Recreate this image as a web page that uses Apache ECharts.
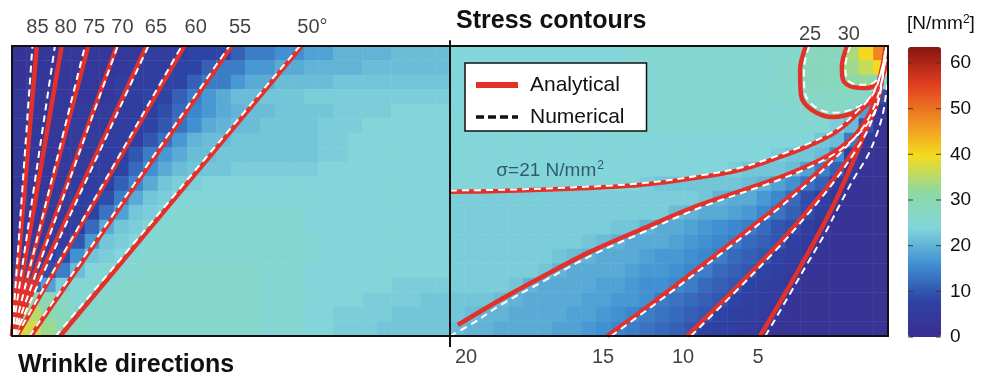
<!DOCTYPE html>
<html>
<head>
<meta charset="utf-8">
<title>Wrinkle directions / Stress contours</title>
<script src="https://cdn.jsdelivr.net/npm/echarts@6/dist/echarts.min.js"></script>
<style>
html,body{margin:0;padding:0;background:#fff;}
#chart{width:993px;height:379px;}
</style>
</head>
<body>
<div id="chart"></div>
<script>
// plate coordinates: x 0..300 (divider at 150), y 0..100
// stress field [N/mm2] in 5x5 cells, top row first (60 columns)
let stressRows = [
    [3,3,4,4,4,4,4,4,4,6,6,6,8,8,8,11,14,14,16,16,18,18,20,20,20,20,21,21,21,21, 24,24,24,24,24,24,24,24,24,24,24,24,25,25,25,25,25,25,25,25,25,25,26,26,28,28,28,34,40,48],
    [3,3,4,4,4,4,4,4,6,6,6,8,8,11,14,14,17,17,19,19,20,20,20,20,21,21,21,21,21,21, 24,24,24,24,24,24,24,24,24,24,24,24,25,25,25,25,25,25,25,25,25,25,26,26,28,28,28,33,36,40],
    [3,4,4,4,4,4,4,6,6,6,8,8,11,14,14,17,19,19,21,21,21,21,22,22,22,22,22,22,22,22, 24,24,24,24,24,24,24,24,24,24,24,24,25,25,25,25,25,25,25,25,25,25,26,26,28,28,28,31,32,25],
    [4,4,4,4,4,4,4,6,6,8,8,11,14,17,19,21,21,22,22,22,23,23,23,23,23,23,23,23,23,23, 24,24,24,24,24,24,24,24,24,24,25,25,25,25,25,25,25,25,25,25,25,25,26,26,27,27,27,27,27,9],
    [4,4,4,4,5,5,5,6,6,7,9,12,15,17,19,20,21,21,22,22,22,22,23,23,23,23,24,24,24,24, 24,24,24,24,24,24,24,24,24,24,25,25,25,25,25,25,25,25,25,25,25,25,25,25,26,27,27,26,18,4],
    [4,4,4,4,5,5,5,6,7,8,10,13,16,19,20,21,21,22,22,22,22,23,23,23,24,24,24,24,24,24, 24,24,24,24,24,24,24,24,24,24,24,25,25,25,25,25,25,25,25,25,25,25,25,25,25,25,23,21,10,3],
    [4,4,4,4,5,5,6,6,7,10,13,17,20,21,21,22,22,22,22,22,22,23,23,24,24,24,24,24,24,24, 24,24,24,24,24,24,24,24,24,24,24,24,24,24,24,24,24,24,24,24,24,24,24,24,24,22,21,14,4,2],
    [4,4,4,5,5,5,6,7,10,14,17,19,21,21,22,22,22,22,22,22,22,23,23,24,24,24,24,24,24,24, 24,24,24,24,24,24,24,24,24,24,24,24,24,24,24,24,24,24,24,24,24,24,23,22,22,21,16,8,3,2],
    [4,4,4,5,5,6,6,8,12,16,19,21,22,22,22,23,23,23,23,23,23,24,24,24,24,24,24,24,24,24, 24,24,24,24,24,24,24,24,24,24,24,24,24,24,24,24,24,24,24,23,22,22,22,21,18,14,11,5,3,2],
    [4,4,4,5,5,6,7,11,15,19,22,23,23,24,24,24,24,24,24,24,24,24,24,24,24,24,24,24,24,24, 24,24,24,24,24,24,24,24,24,24,24,24,24,23,22,22,22,22,22,22,21,20,18,16,13,11,6,3,2,2],
    [4,4,5,5,6,7,9,14,19,22,23,24,24,24,24,24,24,24,24,24,24,24,24,24,24,24,24,24,24,24, 23,23,23,23,23,23,23,23,23,23,23,23,23,23,23,23,23,22,20,19,19,17,15,12,9,7,4,2,2,2],
    [4,4,5,5,6,8,13,18,22,23,25,25,25,25,25,25,25,25,25,25,24,24,24,24,24,24,24,24,24,24, 23,23,23,23,23,23,23,23,23,23,23,23,23,23,23,21,20,19,19,18,17,15,13,11,9,6,3,2,2,2],
    [4,4,5,5,7,12,19,22,23,25,25,25,25,25,25,25,25,25,25,25,24,24,24,24,24,24,24,24,24,24, 23,23,23,23,23,23,23,23,23,23,23,22,22,20,19,19,18,17,16,15,14,12,10,9,6,4,2,2,2,2],
    [4,5,5,6,10,17,22,23,24,25,25,25,25,25,25,25,25,25,25,25,25,24,24,24,24,24,24,24,24,24, 23,23,23,23,23,23,23,23,23,22,21,20,19,19,19,18,17,16,15,14,12,11,10,7,5,3,2,2,2,2],
    [5,7,7,9,16,22,23,24,25,25,25,25,25,25,25,25,25,25,25,25,25,24,24,24,24,24,24,24,24,24, 23,23,23,23,23,23,23,22,21,20,19,19,19,18,17,17,16,15,14,12,11,10,8,6,4,3,2,2,2,2],
    [7,8,9,14,21,24,25,25,25,26,26,26,26,26,26,26,26,25,25,25,24,24,24,24,24,24,24,24,24,24, 23,23,23,23,23,23,22,20,19,19,19,19,18,17,17,16,15,14,12,11,10,8,7,5,3,2,2,2,2,2],
    [10,12,18,23,25,25,25,26,26,26,26,26,26,26,26,26,26,25,25,25,24,24,24,24,24,24,23,23,23,23, 23,23,23,23,22,20,19,19,19,19,18,18,17,16,16,15,14,12,11,10,8,7,6,4,2,2,2,2,2,2],
    [16,29,29,27,25,25,26,26,26,26,26,26,26,26,26,26,26,25,25,25,24,24,24,24,23,23,23,23,22,22, 22,22,22,21,20,19,19,19,19,18,18,17,17,16,14,13,12,11,10,8,7,6,5,3,2,2,2,2,2,2],
    [32,35,31,28,26,26,26,26,26,26,26,26,26,26,26,26,26,25,25,25,24,24,23,23,23,23,22,22,22,22, 22,21,20,20,19,19,19,19,18,18,17,16,15,14,13,12,11,10,8,7,6,5,4,2,2,2,2,2,2,2],
    [38,37,33,29,27,26,26,26,26,26,26,26,26,26,26,26,26,25,25,25,24,24,23,23,23,22,22,22,22,22, 21,20,20,19,19,19,19,18,18,17,16,15,14,13,12,11,10,8,7,6,5,4,2,2,2,2,2,2,2,2]
];

// wrinkle directions (left half): lines from the bottom edge to the top edge
let wrinkleAngles = ['85', '80', '75', '70', '65', '60', '55', '50°'];
let angleLabelX = [8.7, 18.4, 28.1, 37.8, 49.3, 62.9, 78.1, 102.9];
let wrinkleTopA = [8.5, 17.0, 26.1, 35.9, 46.1, 59.0, 75.2, 99.2];
let wrinkleBottomA = [0, 0, 0, 0, 0, 1.7, 6.5, 16.5];
let wrinkleTopN = [7.0, 14.7, 25.0, 36.2, 46.7, 58.1, 74.4, 98.6];
let wrinkleBottomN = [0, 0, 0.3, 0.5, 0.8, 1.5, 6, 15];

// stress contours (right half), analytical (A) and numerical (N)
let sigma21A = [[150,49.7],[167,50],[188,50.7],[215,52.1],[236,54.8],[249,57.2],[260,60.7],[272,65.2],[282,70.3],[290,77.2],[295.5,84],[299.3,99.5]];
let sigma21N = [[150,50.2],[167,50.4],[188,51.1],[215,52.6],[236,55.4],[249,57.9],[260,61.4],[272,66],[282,71],[290,78],[295.7,85],[299.4,99.5]];
let contour20A = [[152.7,3.8],[167.1,12.4],[180.8,20],[197.9,29],[215.1,36.6],[235.6,45.2],[260.6,53.8],[273.3,59],[283.6,64.8],[292.8,73.4],[296.6,81.4],[299.3,99.5]];
let contour20N = [[150,0],[158,4.5],[167.5,10.8],[181.5,18.6],[198.5,27.8],[215.7,35.6],[236,44.4],[261,53.2],[273.7,58.5],[284,64.4],[293,73.2],[296.8,81.4],[299.4,99.5]];
let contour15A = [[203.8,0],[218.5,10.7],[240.1,27.2],[258.6,41.7],[272.3,53.1],[281.2,61.4],[289.4,70],[293.8,76.9],[297.3,86.6],[299.3,99.5]];
let contour15N = [[205.2,0],[219.8,10.7],[241.3,27.2],[259.7,41.7],[273.2,53.1],[282,61.4],[290,70],[294.3,76.9],[297.6,86.6],[299.4,99.5]];
let contour10A = [[231.2,0],[245.9,14.5],[260.6,29.7],[271.6,42.1],[281.2,53.8],[287.7,63.1],[292.8,71.7],[296.6,82.4],[299.3,99.5]];
let contour10N = [[232.5,0],[247,14.5],[261.7,29.7],[272.6,42.1],[282,53.8],[288.4,63.1],[293.4,71.7],[297,82.4],[299.4,99.5]];
let contour5A = [[256.2,0],[264.7,14.5],[270.5,24.8],[276,34.8],[281.2,44.8],[285.6,54.5],[289.7,64.1],[293.2,73.1],[296.2,82.4],[299.3,99.5]];
let contour5N = [[258,0],[266.4,14.5],[272.3,24.8],[278.1,34.8],[283.6,45.5],[288.4,54.5],[292.8,61.7],[295.9,68.9],[298.3,76.9],[299.7,86.6]];
let contour25A = [[271.9,100],[269.9,91.7],[270.2,83.1],[274,77.9],[281.2,75.5],[288.7,77.2],[294.5,81.4],[297.9,90],[299.3,98.6]];
let contour25N = [[273,100],[271.2,92],[271.5,84],[275,79],[281.5,77],[288.5,78.5],[294,82.5],[297.5,90.5],[299.1,98.3]];
let contour30A = [[286,100],[284.2,92.8],[284.6,88.3],[287.7,85.9],[292.8,85.5],[297.3,88.3],[299.7,95.2]];
let contour30N = [[287,100],[285.4,93],[285.8,88.8],[288.4,86.9],[292.8,86.6],[296.8,89],[299.4,95.5]];

let bottomLabels = ['20', '15', '10', '5'];
let bottomLabelX = [155.5, 202.4, 229.8, 255.5];
let cornerLabels = ['25', '30'];
let cornerLabelX = [273.3, 286.6];
let sigmaLabelPos = [184.3, 56.9];
let colorTicks = [0, 10, 20, 30, 40, 50, 60];
let colorMax = 63.5;
let colorStep = 10;

let font = 'Liberation Sans';
let myChart = echarts.init(document.getElementById('chart'));

// heatmap table
let nRows = stressRows.length, nCols = stressRows[0].length;
let heatData = [];
stressRows.forEach(function (row, i) {
    row.forEach(function (v, j) {
        heatData.push([j, nRows - 1 - i, v]);
    });
});
let colCats = [], rowCats = [];
for (let j = 0; j < nCols; j++) colCats.push(j);
for (let i = 0; i < nRows; i++) rowCats.push(i);

function redLine(data) {
    return {
        name: 'Analytical', type: 'line', xAxisIndex: 1, yAxisIndex: 1,
        data: data, symbol: 'none', smooth: 0.35, silent: true, z: 3,
        itemStyle: {color: '#e5302a'},
        lineStyle: {color: '#e5302a', width: 4.5}
    };
}
function whiteLine(data) {
    return {
        name: 'num', type: 'line', xAxisIndex: 1, yAxisIndex: 1,
        data: data, symbol: 'none', smooth: 0.35, silent: true, z: 4,
        lineStyle: {color: '#ffffff', width: 2, type: [7, 5]}
    };
}
function textMarks(xs, y, texts, offset, size) {
    return {
        type: 'scatter', xAxisIndex: 1, yAxisIndex: 1, symbolSize: 1, clip: false, silent: true, z: 6,
        itemStyle: {color: 'transparent'},
        data: xs.map(function (x, i) { return {value: [x, y], name: texts[i]}; }),
        label: {show: true, position: 'inside', offset: offset, formatter: '{b}',
            fontSize: size, fontFamily: font, color: '#111'}
    };
}

let series = [];
series.push({
    type: 'heatmap', xAxisIndex: 0, yAxisIndex: 0, data: heatData, z: 1,
    itemStyle: {borderWidth: 0}, emphasis: {disabled: true}
});
// legend sample for the numerical solution
series.push({
    name: 'Numerical', type: 'line', xAxisIndex: 1, yAxisIndex: 1, data: [], symbol: 'none',
    itemStyle: {color: '#111'},
    lineStyle: {color: '#111', width: 3.5, type: [8, 4]}
});

let analytical = [sigma21A, contour20A, contour15A, contour10A, contour5A, contour25A, contour30A];
let numerical = [sigma21N, contour20N, contour15N, contour10N, contour5N, contour25N, contour30N];
wrinkleTopA.forEach(function (t, i) {
    series.push(redLine([[wrinkleBottomA[i], 0], [t, 100]]));
});
analytical.forEach(function (c) { series.push(redLine(c)); });
wrinkleTopN.forEach(function (t, i) {
    series.push(whiteLine([[wrinkleBottomN[i], 0], [t, 100]]));
});
numerical.forEach(function (c) { series.push(whiteLine(c)); });

// divider between the two halves
series.push({
    type: 'line', xAxisIndex: 1, yAxisIndex: 1, data: [[150, -3.8], [150, 102]], symbol: 'none',
    clip: false, silent: true, z: 7, lineStyle: {color: '#111', width: 2}
});

series.push(textMarks(angleLabelX, 100, wrinkleAngles, [0, -18.5], 20));
series.push(textMarks(cornerLabelX, 100, cornerLabels, [0, -12], 20));
series.push(textMarks(bottomLabelX, 0, bottomLabels, [0, 21], 20));
series.push({
    type: 'scatter', xAxisIndex: 1, yAxisIndex: 1, symbolSize: 1, clip: false, silent: true, z: 6,
    itemStyle: {color: 'transparent'},
    data: [{value: sigmaLabelPos, name: 'sigma'}],
    label: {
        show: true, position: 'inside', formatter: '{a|σ=21 N/mm}{s|2}',
        rich: {
            a: {fontSize: 19, fontFamily: font, color: '#1d3b50', lineHeight: 22},
            s: {fontSize: 12, fontFamily: font, color: '#1d3b50', verticalAlign: 'top', lineHeight: 22, padding: [0, 0, 0, 1]}
        }
    }
});
// small tick marks inside both edges of the colour bar
series.push({
    type: 'scatter', xAxisIndex: 3, yAxisIndex: 3, symbol: 'rect', symbolSize: [5, 1.2],
    symbolOffset: [2.5, 0], silent: true, clip: false, z: 10, itemStyle: {color: '#333', opacity: 0.8},
    data: colorTicks.map(function (v) { return [0, v]; })
});
series.push({
    type: 'scatter', xAxisIndex: 3, yAxisIndex: 3, symbol: 'rect', symbolSize: [5, 1.2],
    symbolOffset: [-2.5, 0], silent: true, clip: false, z: 10, itemStyle: {color: '#333', opacity: 0.8},
    data: colorTicks.map(function (v) { return [1, v]; })
});

let frameAxis = {
    gridIndex: 1, type: 'value', z: 10,
    axisLine: {show: true, onZero: false, lineStyle: {color: '#111', width: 2}},
    axisTick: {show: false}, axisLabel: {show: false}, splitLine: {show: false}
};

let option = {
    animation: false,
    textStyle: {fontFamily: font},
    grid: [
        {left: 12, top: 46, width: 876, height: 290},
        {left: 12, top: 46, width: 876, height: 290},
        {left: 908, top: 47, width: 33, height: 290}
    ],
    xAxis: [
        {gridIndex: 0, type: 'category', data: colCats, show: false},
        Object.assign({}, frameAxis, {min: 0, max: 300, position: 'bottom'}),
        Object.assign({}, frameAxis, {min: 0, max: 300, position: 'top'}),
        {gridIndex: 2, type: 'value', min: 0, max: 1, show: false}
    ],
    yAxis: [
        {gridIndex: 0, type: 'category', data: rowCats, show: false},
        Object.assign({}, frameAxis, {min: 0, max: 100, position: 'left'}),
        Object.assign({}, frameAxis, {min: 0, max: 100, position: 'right'}),
        {
            gridIndex: 2, type: 'value', min: 0, max: colorMax, interval: colorStep, position: 'right',
            axisLine: {show: false}, splitLine: {show: false}, axisTick: {show: false},
            axisLabel: {show: true, margin: 9, fontSize: 19, color: '#111', fontFamily: font, showMaxLabel: false}
        }
    ],
    visualMap: {
        type: 'continuous', seriesIndex: 0, min: 0, max: colorMax, calculable: false, z: 1,
        left: 908, top: 47, itemWidth: 33, itemHeight: 290, padding: 0, hoverLink: false,
        inRange: {color: ['#3b2d8f', '#2e43a4', '#3f8fd2', '#82d5da', '#8ed9a2', '#f4dc1c', '#f08a22', '#e03c20', '#861610']}
    },
    legend: {
        data: [
            {name: 'Analytical', itemStyle: {opacity: 0}, lineStyle: {width: 6, color: '#e5302a'}},
            {name: 'Numerical', itemStyle: {opacity: 0}, lineStyle: {width: 3.5, color: '#111', type: [8, 4]}}
        ],
        orient: 'vertical', left: 465, top: 63, itemWidth: 42, itemHeight: 14, itemGap: 8,
        padding: [10, 22, 2, 8], backgroundColor: '#fff', borderColor: '#111', borderWidth: 1.5,
        borderRadius: 0, selectedMode: false,
        textStyle: {fontSize: 21, fontFamily: font, color: '#111', lineHeight: 24, padding: [0, 0, 0, 7]}
    },
    graphic: [
        {type: 'text', left: 456, top: 9, style: {text: 'Stress contours', font: 'bold 25px ' + font, fill: '#111'}},
        {type: 'text', left: 18, top: 353, style: {text: 'Wrinkle directions', font: 'bold 25px ' + font, fill: '#111'}},
        {
            type: 'text', left: 907, top: 14,
            style: {
                text: '[N/mm{s|2}]', font: '19px ' + font, fill: '#111',
                rich: {s: {fontSize: 12, fontFamily: font, fill: '#111', verticalAlign: 'top', lineHeight: 20}}
            }
        }
    ],
    series: series
};
myChart.setOption(option);
</script>
</body>
</html>
